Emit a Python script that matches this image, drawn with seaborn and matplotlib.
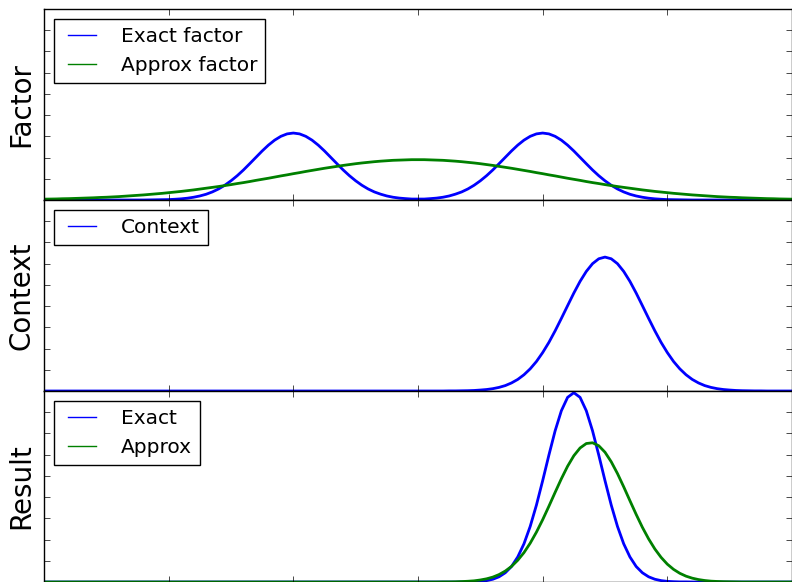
import matplotlib
matplotlib.use('Agg')
import matplotlib.pyplot as plt
import seaborn as sns

# sample positions (x axis runs from -3 to 3)
x_grid = [
    -3.0, -2.95, -2.9, -2.85, -2.8, -2.75, -2.7, -2.65, -2.6, -2.55,
    -2.5, -2.45, -2.4, -2.35, -2.3, -2.25, -2.2, -2.15, -2.1, -2.05,
    -2.0, -1.95, -1.9, -1.85, -1.8, -1.75, -1.7, -1.65, -1.6, -1.55,
    -1.5, -1.45, -1.4, -1.35, -1.3, -1.25, -1.2, -1.15, -1.1, -1.05,
    -1.0, -0.95, -0.9, -0.85, -0.8, -0.75, -0.7, -0.65, -0.6, -0.55,
    -0.5, -0.45, -0.4, -0.35, -0.3, -0.25, -0.2, -0.15, -0.1, -0.05,
    0.0, 0.05, 0.1, 0.15, 0.2, 0.25, 0.3, 0.35, 0.4, 0.45,
    0.5, 0.55, 0.6, 0.65, 0.7, 0.75, 0.8, 0.85, 0.9, 0.95,
    1.0, 1.05, 1.1, 1.15, 1.2, 1.25, 1.3, 1.35, 1.4, 1.45,
    1.5, 1.55, 1.6, 1.65, 1.7, 1.75, 1.8, 1.85, 1.9, 1.95,
    2.0, 2.05, 2.1, 2.15, 2.2, 2.25, 2.3, 2.35, 2.4, 2.45,
    2.5, 2.55, 2.6, 2.65, 2.7, 2.75, 2.8, 2.85, 2.9, 2.95,
    3.0,
]

# top panel
factor_exact = [
    0, 0, 0, 0, 0, 0, 0, 0, 0, 0, 0, 0, 0, 0, 0, 0, 0, 0.001, 0.002, 0.003,
    0.004, 0.007, 0.011, 0.017, 0.026, 0.038, 0.054, 0.076, 0.104, 0.139,
    0.181, 0.229, 0.283, 0.342, 0.402, 0.462, 0.517, 0.564, 0.600, 0.623,
    0.631, 0.623, 0.600, 0.564, 0.517, 0.462, 0.402, 0.342, 0.283, 0.229,
    0.181, 0.139, 0.104, 0.076, 0.055, 0.038, 0.026, 0.018, 0.013, 0.009,
    0.009, 0.009, 0.013, 0.018, 0.026, 0.038, 0.055, 0.076, 0.104, 0.139,
    0.181, 0.229, 0.283, 0.342, 0.402, 0.462, 0.517, 0.564, 0.600, 0.623,
    0.631, 0.623, 0.600, 0.564, 0.517, 0.462, 0.402, 0.342, 0.283, 0.229,
    0.181, 0.139, 0.104, 0.076, 0.054, 0.038, 0.026, 0.017, 0.011, 0.007,
    0.004, 0.003, 0.002, 0.001, 0, 0, 0, 0, 0, 0, 0, 0, 0, 0, 0, 0, 0, 0, 0, 0,
    0,
]
factor_approx = [
    0.008, 0.009, 0.010, 0.012, 0.013, 0.015, 0.017, 0.019, 0.021, 0.024,
    0.026, 0.029, 0.032, 0.036, 0.040, 0.044, 0.048, 0.053, 0.058, 0.063,
    0.069, 0.075, 0.081, 0.088, 0.095, 0.103, 0.111, 0.119, 0.127, 0.136,
    0.145, 0.155, 0.164, 0.174, 0.185, 0.195, 0.205, 0.216, 0.227, 0.237,
    0.248, 0.258, 0.269, 0.279, 0.289, 0.299, 0.308, 0.317, 0.326, 0.334,
    0.342, 0.349, 0.355, 0.361, 0.366, 0.370, 0.374, 0.376, 0.378, 0.380,
    0.380, 0.380, 0.378, 0.376, 0.374, 0.370, 0.366, 0.361, 0.355, 0.349,
    0.342, 0.334, 0.326, 0.317, 0.308, 0.299, 0.289, 0.279, 0.269, 0.258,
    0.248, 0.237, 0.227, 0.216, 0.205, 0.195, 0.185, 0.174, 0.164, 0.155,
    0.145, 0.136, 0.127, 0.119, 0.111, 0.103, 0.095, 0.088, 0.081, 0.075,
    0.069, 0.063, 0.058, 0.053, 0.048, 0.044, 0.040, 0.036, 0.032, 0.029,
    0.026, 0.024, 0.021, 0.019, 0.017, 0.015, 0.013, 0.012, 0.010, 0.009,
    0.008,
]

# middle panel
context = [
    0, 0, 0, 0, 0, 0, 0, 0, 0, 0, 0, 0, 0, 0, 0, 0, 0, 0, 0, 0,
    0, 0, 0, 0, 0, 0, 0, 0, 0, 0, 0, 0, 0, 0, 0, 0, 0, 0, 0, 0,
    0, 0, 0, 0, 0, 0, 0, 0, 0, 0, 0, 0, 0, 0, 0, 0, 0, 0, 0, 0,
    0, 0, 0, 0, 0, 0.001, 0.001, 0.002, 0.003, 0.005,
    0.009, 0.014, 0.022, 0.034, 0.051, 0.076, 0.109, 0.153, 0.209, 0.278,
    0.362, 0.458, 0.567, 0.684, 0.804, 0.923, 1.033, 1.127, 1.200, 1.246,
    1.262, 1.246, 1.200, 1.127, 1.033, 0.923, 0.804, 0.684, 0.567, 0.458,
    0.362, 0.278, 0.209, 0.153, 0.109, 0.076, 0.051, 0.034, 0.022, 0.014,
    0.009, 0.005, 0.003, 0.002, 0.001, 0.001, 0, 0, 0, 0,
    0,
]

# bottom panel
result_exact = [
    0, 0, 0, 0, 0, 0, 0, 0, 0, 0, 0, 0, 0, 0, 0, 0, 0, 0, 0, 0,
    0, 0, 0, 0, 0, 0, 0, 0, 0, 0, 0, 0, 0, 0, 0, 0, 0, 0, 0, 0,
    0, 0, 0, 0, 0, 0, 0, 0, 0, 0, 0, 0, 0, 0, 0, 0, 0, 0, 0, 0,
    0, 0, 0, 0, 0, 0, 0, 0.001, 0.001, 0.003,
    0.006, 0.013, 0.026, 0.049, 0.087, 0.146, 0.236, 0.360, 0.524, 0.725,
    0.955, 1.196, 1.425, 1.614, 1.740, 1.784, 1.740, 1.614, 1.425, 1.196,
    0.955, 0.725, 0.524, 0.360, 0.236, 0.146, 0.087, 0.049, 0.026, 0.013,
    0.006, 0.003, 0.001, 0.001, 0, 0, 0, 0, 0, 0, 0, 0, 0, 0, 0, 0, 0, 0, 0, 0,
    0,
]
result_approx = [
    0, 0, 0, 0, 0, 0, 0, 0, 0, 0, 0, 0, 0, 0, 0, 0, 0, 0, 0, 0,
    0, 0, 0, 0, 0, 0, 0, 0, 0, 0, 0, 0, 0, 0, 0, 0, 0, 0, 0, 0,
    0, 0, 0, 0, 0, 0, 0, 0, 0, 0, 0, 0, 0, 0, 0, 0, 0, 0, 0, 0,
    0, 0, 0, 0, 0.001, 0.001, 0.002, 0.004, 0.007, 0.011,
    0.019, 0.030, 0.046, 0.070, 0.103, 0.147, 0.205, 0.277, 0.366, 0.470,
    0.587, 0.714, 0.845, 0.973, 1.091, 1.190, 1.263, 1.305, 1.312, 1.284,
    1.223, 1.133, 1.022, 0.897, 0.766, 0.637, 0.515, 0.406, 0.311, 0.232,
    0.168, 0.119, 0.082, 0.055, 0.036, 0.023, 0.014, 0.008, 0.005, 0.003,
    0.002, 0.001, 0, 0, 0, 0, 0, 0, 0, 0,
    0,
]

x_ticks = [-3, -2, -1, 0, 1, 2, 3]
y_ticks = [0, 0.2, 0.4, 0.6, 0.8, 1.0, 1.2, 1.4, 1.6, 1.8]

panels = [
    ('Factor', [(factor_exact, 'b', 'Exact factor'), (factor_approx, 'g', 'Approx factor')]),
    ('Context', [(context, 'b', 'Context')]),
    ('Result', [(result_exact, 'b', 'Exact'), (result_approx, 'g', 'Approx')]),
]

plt.style.use('classic')
fig, axes = plt.subplots(3, 1, sharex=True, figsize=(7.92, 5.82), dpi=100)
fig.patch.set_facecolor('white')
fig.subplots_adjust(left=44 / 792, right=1.0, top=1 - 9 / 582, bottom=0.0, hspace=0.0)

for ax, (name, series) in zip(axes, panels):
    for values, color, label in series:
        sns.lineplot(x=x_grid, y=values, ax=ax, color=color, linewidth=2,
                     label=label, errorbar=None)
    ax.set_xlim(-3, 3)
    ax.set_ylim(0, 1.8)
    ax.set_xticks(x_ticks)
    ax.set_yticks(y_ticks)
    ax.tick_params(labelleft=False, labelbottom=False, labelright=False, labeltop=False)
    ax.set_ylabel(name, fontsize=20, labelpad=6)
    leg = ax.legend(loc='upper left', fontsize=14.5, fancybox=False, framealpha=1,
                    handlelength=2.0, handletextpad=0.9, borderaxespad=0.5)
    leg.get_frame().set_edgecolor('black')
    for line in leg.get_lines():
        line.set_linewidth(1.0)

fig.savefig('out.png', dpi=100, facecolor='white')
